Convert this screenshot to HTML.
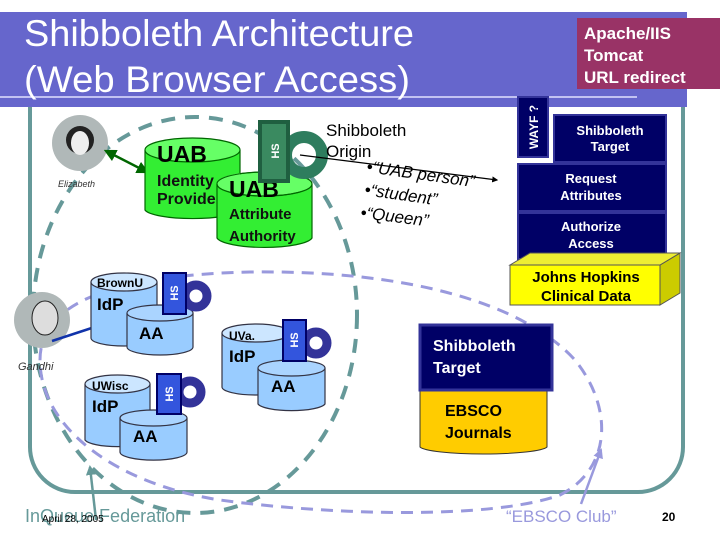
<!DOCTYPE html>
<html><head><meta charset="utf-8"><style>
html,body{margin:0;padding:0;background:#fff}
svg{display:block}
text{font-family:"Liberation Sans",sans-serif}
</style></head><body>
<svg width="720" height="540" viewBox="0 0 720 540" xmlns="http://www.w3.org/2000/svg">
<defs>
<marker id="ag" viewBox="0 0 10 10" refX="8" refY="5" markerWidth="5" markerHeight="5" orient="auto-start-reverse"><path d="M0,0L10,5L0,10z" fill="#006600"/></marker>
<marker id="ab" viewBox="0 0 10 10" refX="8" refY="5" markerWidth="5" markerHeight="5" orient="auto"><path d="M0,0L10,5L0,10z" fill="#1133aa"/></marker>
<marker id="ak" viewBox="0 0 10 10" refX="8" refY="5" markerWidth="5" markerHeight="5" orient="auto"><path d="M0,0L10,5L0,10z" fill="#000"/></marker>
<marker id="at" viewBox="0 0 10 10" refX="8" refY="5" markerWidth="4" markerHeight="4" orient="auto"><path d="M0,0L10,5L0,10z" fill="#669999"/></marker>
<marker id="al" viewBox="0 0 10 10" refX="8" refY="5" markerWidth="4" markerHeight="4" orient="auto"><path d="M0,0L10,5L0,10z" fill="#9999dd"/></marker>
</defs>
<!-- frame -->
<rect x="30" y="60" width="653" height="432" rx="45" fill="none" stroke="#669999" stroke-width="4"/>
<!-- title band -->
<rect x="0" y="12" width="687" height="95" fill="#6666cc"/>
<line x1="0" y1="97" x2="637" y2="97" stroke="#e0e0ff" stroke-width="1.5"/>
<text x="24" y="46" font-size="37" fill="#fff" textLength="390" lengthAdjust="spacingAndGlyphs">Shibboleth Architecture</text>
<text x="24" y="92" font-size="37" fill="#fff" textLength="386" lengthAdjust="spacingAndGlyphs">(Web Browser Access)</text>
<rect x="577" y="18" width="143" height="71" fill="#993366"/>
<g font-size="17" font-weight="bold" fill="#fff"><text x="584" y="39">Apache/IIS</text><text x="584" y="61">Tomcat</text><text x="584" y="83">URL redirect</text></g>

<!-- big teal dashed ellipse -->
<ellipse cx="195" cy="315" rx="162" ry="198" fill="none" stroke="#669999" stroke-width="4" stroke-dasharray="14,10"/>
<!-- lavender dashed loop -->
<path d="M40,360 C40,300 120,275 250,272 C400,270 520,300 575,360 C615,410 610,470 560,495 C490,520 330,515 220,500 C120,485 40,430 40,360Z" fill="none" stroke="#9999dd" stroke-width="3" stroke-dasharray="12,8"/>

<!-- Elizabeth -->
<circle cx="80" cy="143" r="28" fill="#b0b8b8"/>
<circle cx="80" cy="140" r="14" fill="#222"/>
<ellipse cx="80" cy="143" rx="9" ry="12" fill="#eee"/>
<text x="58" y="187" font-size="9" fill="#333" font-style="italic">Elizabeth</text>
<line x1="106" y1="151" x2="147" y2="172" stroke="#006600" stroke-width="2.5" marker-start="url(#ag)" marker-end="url(#ag)"/>

<!-- UAB IdP -->
<g stroke="#006600" stroke-width="1.2">
<path d="M145,150 L145,210 A48,10 0 0 0 240,210 L240,150" fill="#33ee33"/>
<ellipse cx="192.5" cy="150" rx="47.5" ry="12" fill="#66ff66"/>
<path d="M217,184 L217,238 A48,11 0 0 0 312,238 L312,184" fill="#33ee33"/>
<ellipse cx="264.5" cy="184" rx="47.5" ry="12" fill="#66ff66"/>
</g>
<text x="157" y="162" font-size="23" font-weight="bold">UAB</text>
<text x="157" y="186" font-size="16" font-weight="bold" fill="#111">Identity</text>
<text x="157" y="204" font-size="16" font-weight="bold" fill="#111">Provide</text>
<path d="M217,184 A47.5,12 0 0 1 240,173 L240,184Z" fill="#66ff66"/>
<ellipse cx="264.5" cy="184" rx="47.5" ry="12" fill="none" stroke="#006600"/>
<text x="229" y="197" font-size="23" font-weight="bold">UAB</text>
<text x="229" y="219" font-size="15" font-weight="bold" fill="#111">Attribute</text>
<text x="229" y="241" font-size="15" font-weight="bold" fill="#111">Authority</text>
<circle cx="304" cy="155" r="18" fill="none" stroke="#2e7d5e" stroke-width="12"/>
<rect x="258" y="120" width="32" height="63" fill="#1f5f40"/>
<rect x="262" y="124" width="24" height="55" fill="#3a8a60"/>
<text transform="translate(279,151) rotate(-90)" font-size="11" font-weight="bold" fill="#fff" text-anchor="middle">HS</text>

<!-- Shibboleth Origin -->
<text x="326" y="136" font-size="17" fill="#000">Shibboleth</text>
<text x="326" y="157" font-size="17" fill="#000">Origin</text>
<line x1="300" y1="155" x2="497" y2="180" stroke="#000" stroke-width="1.2" marker-end="url(#ak)"/>
<g font-size="17" font-style="italic">
<text transform="translate(366,172) rotate(8)">•“UAB person”</text>
<text transform="translate(364,195) rotate(8)">•“student”</text>
<text transform="translate(360,218) rotate(7)">•“Queen”</text>
</g>

<!-- right stack -->
<g fill="#000066" stroke="#333399" stroke-width="2">
<rect x="518" y="97" width="30" height="60"/>
<rect x="554" y="115" width="112" height="47"/>
<rect x="518" y="164" width="148" height="47"/>
<rect x="518" y="213" width="148" height="46"/>
</g>
<text transform="translate(538,127) rotate(-90)" font-size="12" font-weight="bold" fill="#fff" text-anchor="middle">WAYF ?</text>
<g font-size="13" font-weight="bold" fill="#fff" text-anchor="middle">
<text x="610" y="135">Shibboleth</text><text x="610" y="151">Target</text>
<text x="591" y="183">Request</text><text x="591" y="200">Attributes</text>
<text x="591" y="231">Authorize</text><text x="591" y="248">Access</text>
</g>
<path d="M660,265 L680,253 L680,293 L660,305Z" fill="#cccc00" stroke="#555"/>
<path d="M510,265 L530,253 L680,253 L660,265Z" fill="#eeee33" stroke="#555"/>
<rect x="510" y="265" width="150" height="40" fill="#ffff00" stroke="#555"/>
<g font-size="15" font-weight="bold" text-anchor="middle"><text x="586" y="282">Johns Hopkins</text><text x="586" y="301">Clinical Data</text></g>

<!-- Gandhi -->
<circle cx="42" cy="320" r="28" fill="#b0b8b8"/>
<ellipse cx="45" cy="318" rx="13" ry="17" fill="#ddd" stroke="#222"/>
<text x="18" y="370" font-size="11" font-style="italic" fill="#333">Gandhi</text>
<line x1="52" y1="341" x2="107" y2="323" stroke="#1133aa" stroke-width="2.5" marker-end="url(#ab)"/>

<!-- blue cylinders -->
<g stroke="#334" stroke-width="1.2">
<path d="M91,282 L91,338 A33,8 0 0 0 157,338 L157,282" fill="#99ccff"/>
<ellipse cx="124" cy="282" rx="33" ry="9" fill="#cce6ff"/>
<path d="M127,313 L127,347 A33,8 0 0 0 193,347 L193,313" fill="#99ccff"/>
<ellipse cx="160" cy="313" rx="33" ry="8" fill="#aad4ff"/>
<path d="M85,384 L85,440 A33,8 0 0 0 150,440 L150,384" fill="#99ccff"/>
<ellipse cx="117.5" cy="384" rx="32.5" ry="9" fill="#cce6ff"/>
<path d="M120,418 L120,452 A33,8 0 0 0 187,452 L187,418" fill="#99ccff"/>
<ellipse cx="153.5" cy="418" rx="33.5" ry="8" fill="#aad4ff"/>
<path d="M222,333 L222,387 A34,8 0 0 0 290,387 L290,333" fill="#99ccff"/>
<ellipse cx="256" cy="333" rx="34" ry="9" fill="#cce6ff"/>
<path d="M258,368 L258,404 A34,8 0 0 0 325,404 L325,368" fill="#99ccff"/>
<ellipse cx="291.5" cy="368" rx="33.5" ry="8" fill="#aad4ff"/>
</g>
<g font-weight="bold" fill="#000">
<text x="97" y="287" font-size="12">BrownU</text><text x="97" y="310" font-size="17">IdP</text><text x="139" y="339" font-size="17">AA</text>
<text x="92" y="390" font-size="12">UWisc</text><text x="92" y="412" font-size="17">IdP</text><text x="133" y="442" font-size="17">AA</text>
<text x="229" y="340" font-size="12">UVa.</text><text x="229" y="362" font-size="17">IdP</text><text x="271" y="392" font-size="17">AA</text>
</g>
<g fill="none" stroke="#333399" stroke-width="9">
<circle cx="196" cy="296" r="11"/><circle cx="190" cy="392" r="11"/><circle cx="316" cy="343" r="11"/>
</g>
<g fill="#3355dd" stroke="#000066" stroke-width="2">
<rect x="163" y="273" width="23" height="41"/><rect x="157" y="374" width="24" height="40"/><rect x="283" y="320" width="23" height="41"/>
</g>
<g font-size="11" font-weight="bold" fill="#fff" text-anchor="middle">
<text transform="translate(178,293) rotate(-90)">HS</text>
<text transform="translate(173,394) rotate(-90)">HS</text>
<text transform="translate(298,340) rotate(-90)">HS</text>
</g>

<!-- EBSCO -->
<path d="M420,388 L420,447 A64,8 0 0 0 547,447 L547,388" fill="#ffcc00" stroke="#333"/>
<rect x="420" y="325" width="132" height="65" fill="#000066" stroke="#333399" stroke-width="3"/>
<g font-size="16" font-weight="bold" fill="#fff"><text x="433" y="351">Shibboleth</text><text x="433" y="373">Target</text></g>
<g font-size="16" font-weight="bold"><text x="445" y="416">EBSCO</text><text x="445" y="438">Journals</text></g>

<!-- bottom labels -->
<text x="25" y="522" font-size="18" fill="#669999">InQueue Federation</text>
<line x1="96" y1="520" x2="90" y2="467" stroke="#669999" stroke-width="2.5" marker-end="url(#at)"/>
<text x="42" y="522" font-size="10" fill="#000">April 28, 2005</text>
<text x="506" y="522" font-size="17" fill="#9999dd">“EBSCO Club”</text>
<line x1="581" y1="504" x2="601" y2="450" stroke="#9999dd" stroke-width="2.5" marker-end="url(#al)"/>
<text x="662" y="521" font-size="12" font-weight="bold">20</text>
</svg>
</body></html>
